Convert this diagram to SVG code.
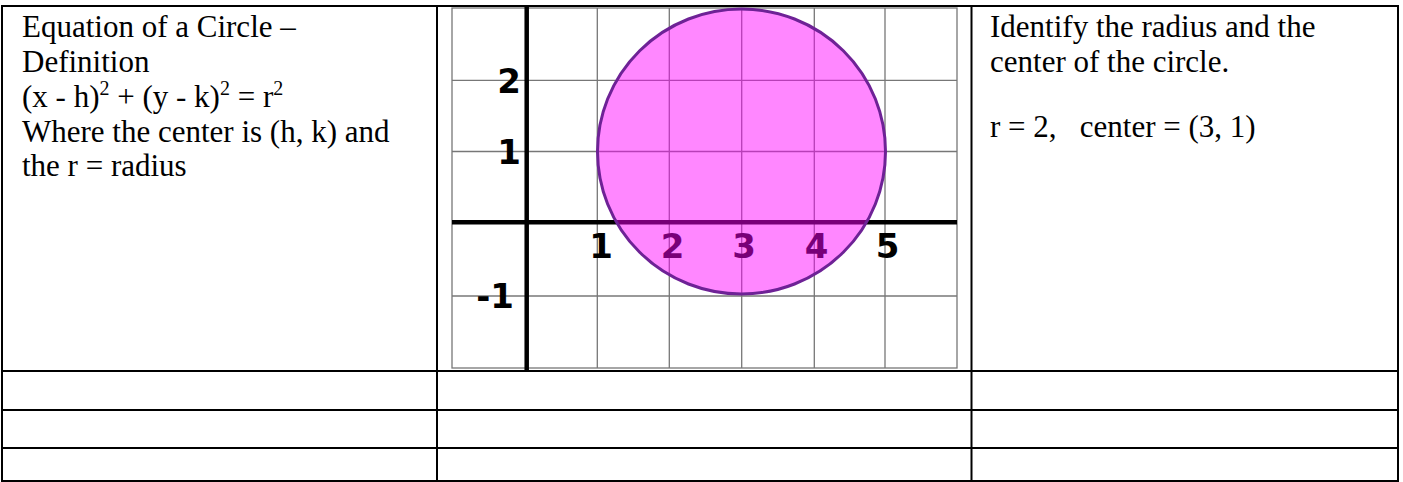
<svg xmlns="http://www.w3.org/2000/svg" width="1403" height="482" viewBox="0 0 1403 482">
<style>
.cell{font-family:"Liberation Serif","Times New Roman",serif;font-size:31px;fill:#000}
.sup{font-size:20px}
.tbl{stroke:#000;stroke-width:2;fill:none}
.grid{stroke:#777;stroke-width:1.3;fill:none}
.axis{stroke:#000;stroke-width:4.5;fill:none}
.lbl{font-family:"DejaVu Sans","Verdana",sans-serif;font-weight:bold;font-size:34px;fill:#000}
</style>
<rect width="1403" height="482" fill="#fff"/>
<g id="graph">
  <g id="grid-lines" class="grid">
    <rect x="452" y="8" width="505" height="360"/>
    <line x1="597.3" y1="8" x2="597.3" y2="368"/>
    <line x1="669.3" y1="8" x2="669.3" y2="368"/>
    <line x1="741.7" y1="8" x2="741.7" y2="368"/>
    <line x1="814.3" y1="8" x2="814.3" y2="368"/>
    <line x1="885" y1="8" x2="885" y2="368"/>
    <line x1="452" y1="80.3" x2="957" y2="80.3"/>
    <line x1="452" y1="151.5" x2="957" y2="151.5"/>
    <line x1="452" y1="296" x2="957" y2="296"/>
  </g>
  <g id="axes" class="axis">
    <line x1="452" y1="222.3" x2="957" y2="222.3"/>
    <line x1="526.7" y1="6" x2="526.7" y2="371"/>
  </g>
  <g id="labels" class="lbl">
    <text x="521" y="92.7" text-anchor="end">2</text>
    <text x="521" y="164" text-anchor="end">1</text>
    <text x="514" y="308" text-anchor="end">-1</text>
    <text x="601" y="258" text-anchor="middle">1</text>
    <text x="672.5" y="258" text-anchor="middle">2</text>
    <text x="744" y="258" text-anchor="middle">3</text>
    <text x="816.7" y="258" text-anchor="middle">4</text>
    <text x="887.5" y="258" text-anchor="middle">5</text>
  </g>
  <ellipse id="circle" cx="741.5" cy="151.5" rx="144" ry="142.5" fill="#ff00ff" fill-opacity="0.47" stroke="#6e2296" stroke-width="3"/>
</g>
<g id="table" class="tbl">
  <line x1="1" y1="6" x2="1399" y2="6"/>
  <line x1="1" y1="371" x2="1399" y2="371"/>
  <line x1="1" y1="410" x2="1399" y2="410"/>
  <line x1="1" y1="448" x2="1399" y2="448"/>
  <line x1="1" y1="481" x2="1399" y2="481"/>
  <line x1="2" y1="5" x2="2" y2="482"/>
  <line x1="437" y1="5" x2="437" y2="482"/>
  <line x1="971.5" y1="5" x2="971.5" y2="482"/>
  <line x1="1398" y1="5" x2="1398" y2="482"/>
</g>
<g id="definition-cell" class="cell">
  <text x="22" y="37">Equation of a Circle –</text>
  <text x="22" y="72">Definition</text>
  <text x="22" y="107">(x - h)<tspan class="sup" dy="-12">2</tspan><tspan dy="12"> + (y - k)</tspan><tspan class="sup" dy="-12">2</tspan><tspan dy="12"> = r</tspan><tspan class="sup" dy="-12">2</tspan></text>
  <text x="22" y="142">Where the center is (h, k) and</text>
  <text x="22" y="176">the r = radius</text>
</g>
<g id="answer-cell" class="cell">
  <text x="990" y="37">Identify the radius and the</text>
  <text x="990" y="72">center of the circle.</text>
  <text x="990" y="137" xml:space="preserve">r = 2,   center = (3, 1)</text>
</g>
</svg>
